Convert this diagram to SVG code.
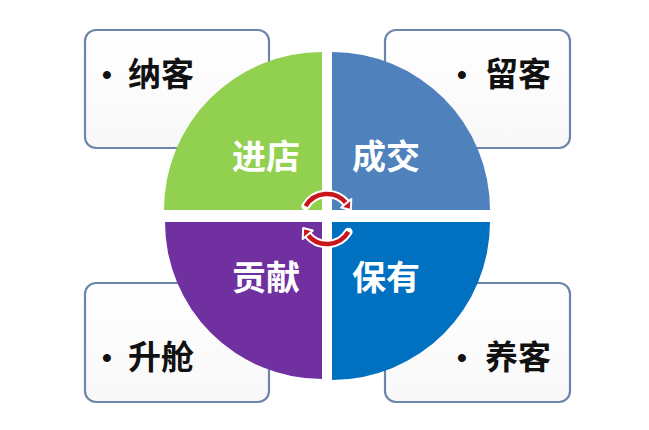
<svg xmlns="http://www.w3.org/2000/svg" width="649" height="430" viewBox="0 0 649 430">
<defs>
<linearGradient id="boxg" x1="0" y1="0" x2="0" y2="1">
<stop offset="0" stop-color="#ffffff"/>
<stop offset="1" stop-color="#f8f8f8"/>
</linearGradient>
</defs>
<style>
.box{fill:url(#boxg);stroke:#6b86ab;stroke-width:2.2}
.lbl{font-family:"Noto Sans CJK SC","Noto Sans",sans-serif;font-weight:700;font-size:33px;fill:#111}
.bul{font-family:"Liberation Sans",sans-serif;font-size:28px;fill:#111}
.ql{font-family:"Noto Sans CJK SC","Noto Sans",sans-serif;font-weight:700;font-size:34px;fill:#ffffff}
.arcw{fill:none;stroke:#ffffff;stroke-width:8.5;stroke-linecap:round}
.arcr{fill:none;stroke:#c8161d;stroke-width:4.5}
.headw{fill:#c8161d;stroke:#ffffff;stroke-width:2;stroke-linejoin:round}
</style>
<rect width="649" height="430" fill="#ffffff"/>
<g id="box-nake">
<rect class="box" x="85" y="30" width="184" height="118" rx="11"/>
<text class="lbl" x="128" y="86"><tspan class="bul" x="102" y="84">•</tspan><tspan x="128" y="86">纳客</tspan></text>
</g>
<g id="box-liuke">
<rect class="box" x="385" y="30" width="185" height="118" rx="11"/>
<text class="lbl" x="485" y="86"><tspan class="bul" x="457" y="84">•</tspan><tspan x="485" y="86">留客</tspan></text>
</g>
<g id="box-shengcang">
<rect class="box" x="85" y="283" width="184" height="119" rx="11"/>
<text class="lbl" x="128" y="369"><tspan class="bul" x="102" y="367">•</tspan><tspan x="128" y="369">升舱</tspan></text>
</g>
<g id="box-yangke">
<rect class="box" x="385" y="283" width="185" height="119" rx="11"/>
<text class="lbl" x="485" y="369"><tspan class="bul" x="457" y="367">•</tspan><tspan x="485" y="369">养客</tspan></text>
</g>
<g id="q-jindian">
<path d="M322,210 L164,210 A158,158 0 0 1 322,52 Z" fill="#92d050"/>
<text class="ql" x="232" y="169">进店</text>
</g>
<g id="q-chengjiao">
<path d="M332,210 L332,52 A158,158 0 0 1 490,210 Z" fill="#4f81bd"/>
<text class="ql" x="352" y="169">成交</text>
</g>
<g id="q-gongxian">
<path d="M322,222 L322,379 A157,157 0 0 1 165,222 Z" fill="#7030a0"/>
<text class="ql" x="232" y="290">贡献</text>
</g>
<g id="q-baoyou">
<path d="M332,222 L490,222 A158,158 0 0 1 332,380 Z" fill="#0070c0"/>
<text class="ql" x="352" y="290">保有</text>
</g>
<g id="connectors">
<path class="arcw" d="M305.6,206.1 A25,25 0 0 1 346.2,203"/>
<path class="arcr" d="M305.6,206.1 A25,25 0 0 1 346.2,203"/>
<polygon class="headw" points="341.2,207.5 351.3,199 350.8,210"/>
<path class="arcw" d="M348.4,231.9 A25,25 0 0 1 307.8,235"/>
<path class="arcr" d="M348.4,231.9 A25,25 0 0 1 307.8,235"/>
<polygon class="headw" points="312.8,230.5 302.7,239 303.2,228"/>
</g>
</svg>
